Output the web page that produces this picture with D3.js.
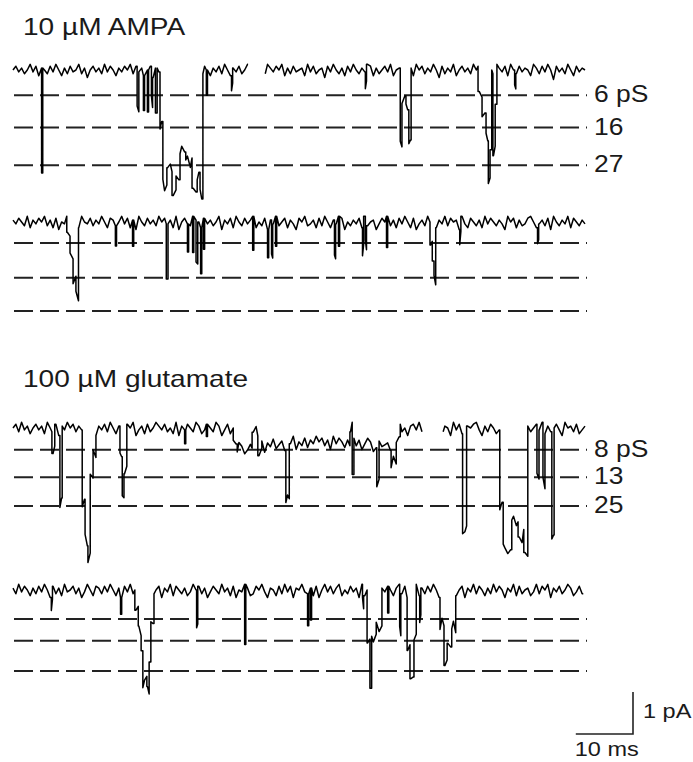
<!DOCTYPE html>
<html>
<head>
<meta charset="utf-8">
<script src="https://cdn.jsdelivr.net/npm/d3@7"></script>
<style>
  body { margin: 0; background: #fff; }
  text { font-family: "Liberation Sans", Arial, sans-serif; fill: #1a1a1a; }
</style>
</head>
<body>
<div id="chart"></div>
<script>
// ---- data ----
const titles = ['10 µM AMPA', '100 µM glutamate'];
const levelLabelsAmpa = ['6 pS', '16', '27'];
const levelLabelsGlu = ['8 pS', '13', '25'];

// dashed conductance levels (pA below baseline), one per trace
const levelsA1 = [0.6, 1.37, 2.27];
const levelsA2 = [0.5, 1.33, 2.12];
const levelsG1 = [0.52, 1.17, 1.86];
const levelsG2 = [0.69, 1.21, 1.93];

// openings: [start ms, end ms, amplitude pA]
const eventsA1 = [
  [5.0, 5.2, 2.5], [21.7, 22.0, 0.95], [22.8, 23.0, 0.83], [23.5, 23.7, 1.0],
  [24.2, 24.4, 0.71], [24.9, 25.2, 1.07], [25.7, 26.2, 1.36], [26.2, 26.9, 2.74],
  [26.9, 27.8, 2.33], [27.8, 28.5, 2.9], [28.5, 29.2, 2.57], [29.2, 30.2, 1.95],
  [30.2, 31.3, 2.14], [31.3, 32.2, 2.86], [32.2, 32.7, 2.57], [32.7, 33.2, 2.98],
  [33.8, 34.0, 0.6], [38.2, 38.4, 0.36], [61.6, 61.8, 0.4], [67.7, 68.0, 1.74],
  [68.0, 68.7, 0.71], [68.7, 69.2, 0.9], [69.2, 69.6, 1.71], [81.3, 82.0, 0.6],
  [82.0, 82.7, 1.07], [82.7, 83.1, 1.55], [83.1, 83.4, 2.57], [83.4, 83.7, 1.9],
  [83.9, 84.3, 1.95], [84.3, 84.6, 0.95], [87.7, 87.9, 0.36]
];
const eventsA2 = [
  [9.4, 9.97, 0.38], [9.97, 10.5, 0.79], [10.5, 11.0, 1.38], [11.0, 11.45, 1.74],
  [17.9, 18.1, 0.48], [20.9, 21.1, 0.62], [26.8, 27.1, 1.31], [30.5, 30.7, 0.67],
  [31.4, 31.6, 0.86], [32.0, 32.3, 1.0], [32.8, 33.0, 1.1], [33.3, 33.5, 0.74],
  [41.9, 42.1, 0.81], [44.5, 44.7, 0.67], [45.2, 45.4, 0.81], [45.9, 46.1, 0.71],
  [56.2, 56.4, 0.83], [56.9, 57.1, 0.71], [61.1, 61.3, 0.67], [61.6, 61.8, 0.57],
  [65.3, 65.5, 0.74], [72.9, 73.3, 0.55], [73.3, 73.6, 1.02], [73.6, 73.9, 1.36],
  [78.1, 78.3, 0.36], [91.7, 91.9, 0.38]
];
const eventsG1 = [
  [6.8, 7.3, 0.52], [8.2, 8.6, 1.71], [12.1, 12.6, 1.83], [12.6, 13.1, 2.67],
  [13.1, 13.5, 3.07], [13.5, 14.0, 1.19], [14.0, 14.5, 0.52], [18.7, 19.1, 0.64],
  [19.1, 19.4, 1.57], [19.4, 19.9, 1.0], [30.0, 30.2, 0.33], [33.8, 34.0, 0.29],
  [38.5, 39.2, 0.29], [39.2, 41.8, 0.48], [41.8, 42.8, 0.1], [42.8, 43.5, 0.57],
  [43.5, 47.7, 0.4], [47.7, 48.3, 1.64], [48.3, 58.9, 0.33], [59.3, 59.6, 1.24],
  [59.6, 63.6, 0.38], [63.6, 64.0, 1.31], [64.0, 66.1, 0.4], [66.1, 67.0, 0.81],
  [67.0, 67.7, 0.3], [78.6, 79.3, 2.38], [85.1, 85.7, 1.9], [85.7, 87.2, 2.9],
  [87.2, 88.3, 2.19], [88.3, 89.3, 2.55], [89.3, 90.0, 3.1], [91.6, 91.96, 1.17],
  [92.65, 93.0, 1.31], [94.2, 94.6, 2.55]
];
const eventsG2 = [
  [6.7, 6.9, 0.31], [18.8, 19.0, 0.4], [21.3, 21.9, 0.48], [21.9, 22.4, 0.95],
  [22.4, 22.7, 1.31], [22.7, 23.4, 2.19], [23.4, 23.8, 2.43], [23.8, 24.1, 1.67],
  [24.1, 24.65, 0.71], [32.1, 32.3, 0.9], [40.5, 40.7, 1.43], [51.5, 51.7, 0.76],
  [52.0, 52.2, 0.76], [61.1, 61.3, 0.31], [61.9, 62.4, 1.26], [62.4, 62.7, 2.43],
  [62.7, 63.5, 1.19], [63.5, 64.5, 0.9], [65.5, 65.7, 0.64], [67.6, 67.8, 1.0],
  [68.9, 69.4, 1.26], [69.4, 70.1, 2.07], [70.1, 70.5, 1.19], [71.1, 71.3, 0.64],
  [74.65, 75.35, 0.76], [75.35, 75.9, 1.71], [75.9, 76.7, 1.31], [76.7, 77.4, 0.88]
];

// pauses in the record: [from ms, to ms]
const gapsA1 = [[41.1, 44.1]];
const gapsA2 = [];
const gapsG1 = [[71.5, 75.2]];
const gapsG2 = [];

// baseline noise, one digit per 0.5 ms (3 = zero)
const noiseA1 = `3142530416 2351403625 1430527314 2504136241 3051426317 2406315240 3172405136
  2415036241 5302461350 2413062514 3260415327 1403526140 3524016253 1406325142 6031524037
  1524063142 5031426350 2416035142 3602514038 1425036142 3`;
const noiseA2 = `2413506241 3052617340 2516034152 4036125304 1627035142 5031426073 1450236142
  5307241603 5142063517 2405316247 1305426150 3624017352 4160532741 3052614036 1742503162
  4051327046 1352604135 2470316254 1036425170 3524061352 4`;
const noiseG1 = `3150426314 2603517240 3152406137 2415036245 1307426153 0241536072 4135026413
  5027416350 2641305172 4053162407 3516240315 2704136250 4163027514 3260415372 1405326140
  5237041652 3104725136 4025316470 2531406253 1470325164 2`;
const noiseG2 = `2504136251 4037152604 3152740361 2514036271 4053162045 3172406135 2640315274
  1350426173 4026513047 2361504172 3045261730 4152063514 2706314052 4136205174 3062514037
  1524063172 4051362504 1372406153 2640513072 4153026415 3`;

const scaleBarMs = 10;
const scaleBarPA = 1;
const scaleBarLabels = ['1 pA', '10 ms'];

// ---- layout ----
const w = 693;
const h = 762;
const step = 0.5;
const noiseGain = 0.045;
const pxPerPA = 42;
const stretch = 1.22;

const rows = [
  { base: 70, levels: levelsA1, events: eventsA1, gaps: gapsA1, noise: noiseA1, labels: levelLabelsAmpa, end: 100 },
  { base: 222, levels: levelsA2, events: eventsA2, gaps: gapsA2, noise: noiseA2, labels: null, end: 100 },
  { base: 428, levels: levelsG1, events: eventsG1, gaps: gapsG1, noise: noiseG1, labels: levelLabelsGlu, end: 100 },
  { base: 590, levels: levelsG2, events: eventsG2, gaps: gapsG2, noise: noiseG2, labels: null, end: 99.7 }
];
rows.forEach((r) => { r.noise = r.noise.replace(/\s/g, ''); });

const svg = d3.select('#chart')
  .append('svg')
  .attr('width', w)
  .attr('height', h)
  .style('background', '#fff');

const xScale = d3.scaleLinear([0, 100], [13, 585]);

// titles
svg.selectAll('text.title')
  .data([[titles[0], 23, 35], [titles[1], 23, 387]])
  .enter()
  .append('text')
  .attr('class', 'title')
  .attr('transform', (d) => `translate(${d[1]},${d[2]}) scale(${stretch},1)`)
  .style('font-size', '23px')
  .text((d) => d[0]);

function levelAt(events, t) {
  let a = 0;
  for (const e of events) if (t >= e[0] && t < e[1]) a = e[2];
  return a;
}

function noiseAt(noise, t) {
  const i = Math.min(noise.length - 1, Math.round(t / step));
  return (+noise[i] - 3) * noiseGain;
}

function tracePoints(row, t0, t1) {
  const times = new Set([t0, t1]);
  for (let i = 0; i < row.noise.length; i++) {
    const t = i * step;
    if (t > t0 && t < t1) times.add(t);
  }
  const edges = new Set();
  row.events.forEach((e) => {
    [e[0], e[1]].forEach((t) => {
      if (t > t0 && t < t1) { times.add(t); edges.add(t); }
    });
  });
  const pts = [];
  [...times].sort((a, b) => a - b).forEach((t) => {
    const n = noiseAt(row.noise, t);
    if (edges.has(t)) pts.push([t, levelAt(row.events, t - 1e-6) + n]);
    pts.push([t, levelAt(row.events, t) + n]);
  });
  return pts;
}

rows.forEach((row) => {
  const yScale = d3.scaleLinear([0, 1], [row.base, row.base + pxPerPA]);
  const g = svg.append('g');

  // dashed levels
  g.selectAll('line.level')
    .data(row.levels)
    .enter()
    .append('line')
    .attr('class', 'level')
    .attr('x1', 14)
    .attr('x2', 587)
    .attr('y1', (d) => yScale(d))
    .attr('y2', (d) => yScale(d))
    .attr('stroke', '#222')
    .attr('stroke-width', 2)
    .attr('stroke-dasharray', '19,7');

  if (row.labels) {
    g.selectAll('text.lvl')
      .data(row.levels)
      .enter()
      .append('text')
      .attr('class', 'lvl')
      .attr('transform', (d) => `translate(594,${yScale(d) + 7}) scale(1.15,1)`)
      .style('font-size', '23px')
      .text((d, i) => row.labels[i]);
  }

  // trace segments between gaps
  const segs = [];
  let s = 0;
  row.gaps.forEach((gp) => { segs.push([s, gp[0]]); s = gp[1]; });
  segs.push([s, row.end]);

  const line = d3.line()
    .x((d) => xScale(d[0]))
    .y((d) => yScale(d[1]));

  segs.forEach((sg) => {
    g.append('path')
      .attr('d', line(tracePoints(row, sg[0], sg[1])))
      .attr('fill', 'none')
      .attr('stroke', '#000')
      .attr('stroke-width', 1.5)
      .attr('stroke-linejoin', 'round');
  });
});

// scale bar
const barX = 633;
const barY = 734;
const barW = xScale(scaleBarMs) - xScale(0);
const barH = scaleBarPA * pxPerPA;
svg.append('path')
  .attr('d', `M${barX - barW},${barY}H${barX}V${barY - barH}`)
  .attr('fill', 'none')
  .attr('stroke', '#222')
  .attr('stroke-width', 1.6);

svg.append('text')
  .attr('transform', `translate(${barX + 10},${barY - 16}) scale(1.12,1)`)
  .style('font-size', '21px')
  .text(scaleBarLabels[0]);

svg.append('text')
  .attr('transform', `translate(${barX - barW - 1},${barY + 22}) scale(1.12,1)`)
  .style('font-size', '21px')
  .text(scaleBarLabels[1]);
</script>
</body>
</html>
